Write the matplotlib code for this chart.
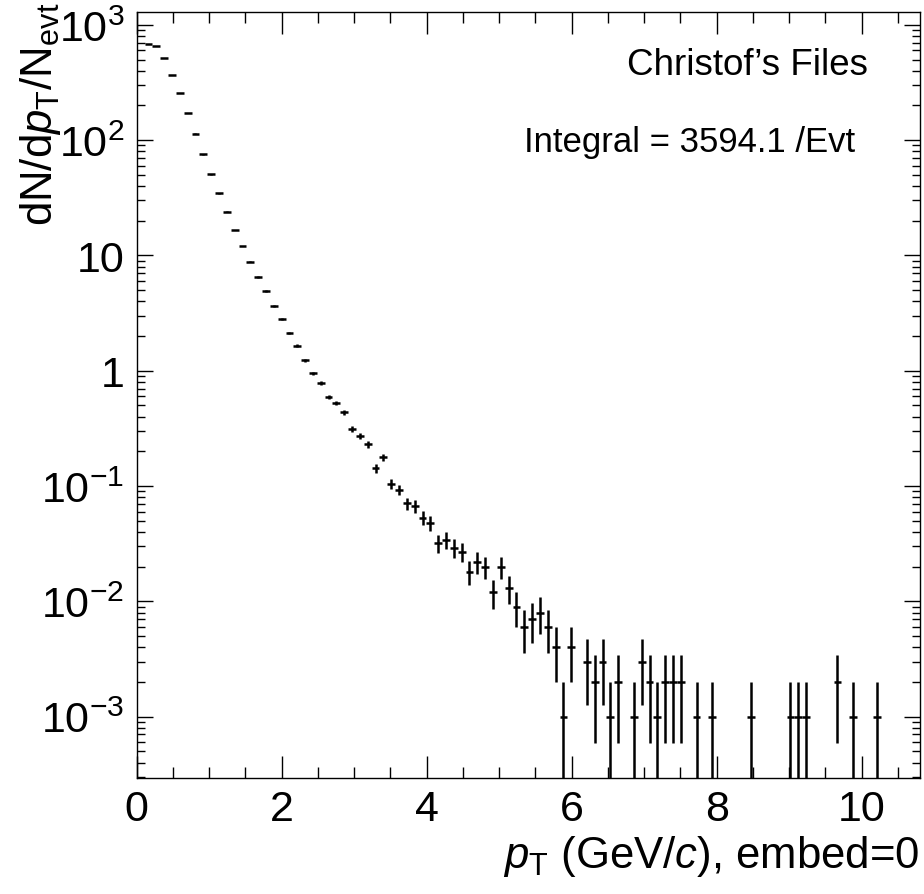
import numpy as np
import matplotlib
matplotlib.use('Agg')
import matplotlib.pyplot as plt
from matplotlib.ticker import (FixedLocator, FixedFormatter, LogLocator,
                               NullFormatter, MultipleLocator)

plt.rcParams['font.family'] = ['Liberation Sans', 'DejaVu Sans']
plt.rcParams['mathtext.fontset'] = 'custom'
plt.rcParams['mathtext.rm'] = 'Liberation Sans'
plt.rcParams['mathtext.it'] = 'Liberation Sans:italic'
plt.rcParams['mathtext.bf'] = 'Liberation Sans:bold'

# ---- data (histogram, 100 bins from 0 to 10.8 GeV/c) ----
bin_width = 0.108
bin_index = [1, 2, 3, 4, 5, 6, 7, 8, 9, 10,
             11, 12, 13, 14, 15, 16, 17, 18, 19, 20,
             21, 22, 23, 24, 25, 26, 27, 28, 29, 30,
             31, 32, 33, 34, 35, 36, 37, 38, 39, 40,
             41, 42, 43, 44, 45, 46, 47, 48, 49, 50,
             51, 52, 53, 54, 55, 57, 58, 59, 60, 61,
             63, 64, 65, 66, 67, 68, 69, 71, 73, 78,
             83, 84, 85, 89, 91, 94]
dndpt = [681, 659, 512, 369, 256, 171, 114, 75.3, 50.5, 34.6,
         23.9, 16.6, 12.07, 8.82, 6.50, 4.91, 3.66, 2.81, 2.12, 1.65,
         1.23, 0.949, 0.782, 0.591, 0.525, 0.436, 0.312, 0.270, 0.231, 0.142,
         0.178, 0.105, 0.093, 0.071, 0.067, 0.053, 0.048, 0.032, 0.034, 0.029,
         0.027, 0.018, 0.022, 0.020, 0.012, 0.020, 0.013, 0.009, 0.006, 0.007,
         0.008, 0.006, 0.004, 0.001, 0.004, 0.003, 0.002, 0.003, 0.001, 0.002,
         0.001, 0.003, 0.002, 0.001, 0.002, 0.002, 0.002, 0.001, 0.001, 0.001,
         0.001, 0.001, 0.001, 0.002, 0.001, 0.001]
entry_weight = 0.001  # one entry corresponds to 1e-3 /Evt

ytick_values = [1e-3, 1e-2, 1e-1, 1, 10, 100, 1000]
ytick_labels = [r'$10^{-3}$', r'$10^{-2}$', r'$10^{-1}$', '1', '10',
                r'$10^{2}$', r'$10^{3}$']

# ---- derived ----
idx = np.array(bin_index)
vals = np.array(dndpt, dtype=float)
x = (idx + 0.5) * bin_width
err = np.sqrt(vals * entry_weight)
err_lo = np.minimum(err, vals - 1e-9)

fig = plt.figure(figsize=(9.24, 8.95), dpi=100)
ax = fig.add_axes([0.148, 0.1293, 0.8473, 0.8558])

ax.errorbar(x, vals, xerr=bin_width / 2, yerr=[err_lo, err], fmt='none',
            ecolor='black', elinewidth=1.8, capsize=0)

ax.set_yscale('log')
ax.set_xlim(0, 10.8)
ax.set_ylim(2.92e-4, 1283)

for sp in ax.spines.values():
    sp.set_linewidth(1.0)

ax.xaxis.set_major_locator(MultipleLocator(2))
ax.xaxis.set_minor_locator(MultipleLocator(0.5))
ax.yaxis.set_major_locator(FixedLocator(ytick_values))
ax.yaxis.set_major_formatter(FixedFormatter(ytick_labels))
ax.yaxis.set_minor_locator(LogLocator(base=10, subs=range(2, 10), numticks=30))
ax.yaxis.set_minor_formatter(NullFormatter())

ax.tick_params(axis='x', which='major', direction='in', length=15.8, width=1,
               top=True, labelsize=31, pad=8)
ax.tick_params(axis='x', which='minor', direction='in', length=7.9, width=1,
               top=True)
ax.tick_params(axis='y', which='major', direction='in', length=11.5, width=1,
               right=True, labelsize=31, pad=9)
ax.tick_params(axis='y', which='minor', direction='in', length=5.8, width=1,
               right=True)

fig.text(868 / 924, 1 - 75 / 895, 'Christof\u2019s Files', ha='right',
         va='baseline', fontsize=26.5)
fig.text(855 / 924, 1 - 151.7 / 895, 'Integral = 3594.1 /Evt', ha='right',
         va='baseline', fontsize=25)
fig.text(18 / 924, 1 - 3 / 895,
         r'dN/d$\mathit{p}_{\mathrm{T}}$/N$_{\mathrm{evt}}$',
         rotation=90, ha='left', va='top', fontsize=31.5)
fig.text(919 / 924, 1 - 868 / 895,
         r'$\mathit{p}_{\mathrm{T}}$ (GeV/$\mathit{c}$), embed=0',
         ha='right', va='baseline', fontsize=31.5)

fig.savefig('out.png', dpi=100)
